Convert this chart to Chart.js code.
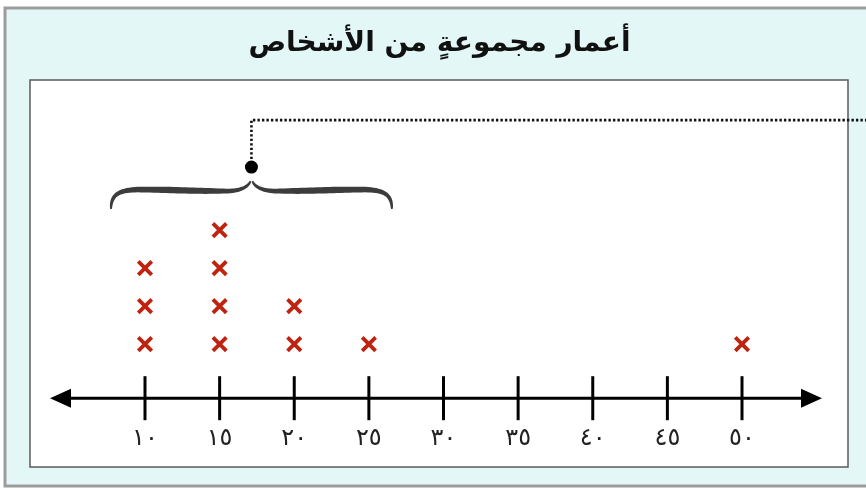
<!DOCTYPE html>
<html><head><meta charset="utf-8">
<script src="https://cdn.jsdelivr.net/npm/chart.js@4"></script>
<style>html,body{margin:0;padding:0;background:#fff}canvas{display:block}</style>
</head><body>
<canvas id="c" width="866" height="488"></canvas>
<script>
// ---- data ----
const titleText = 'أعمار مجموعةٍ من الأشخاص';
const ages = [10, 15, 20, 25, 50];
const counts = [3, 4, 2, 1, 1];
const tickValues = [10, 15, 20, 25, 30, 35, 40, 45, 50];
const tickLabels = ['١٠', '١٥', '٢٠', '٢٥', '٣٠', '٣٥', '٤٠', '٤٥', '٥٠'];
const braceFrom = 10, braceTo = 25;

const points = [];
ages.forEach((a, i) => { for (let k = 1; k <= counts[i]; k++) points.push({ x: a, y: k }); });

// ---- decorations ----
const framePlugin = {
  id: 'frame',
  beforeDraw(chart) {
    const ctx = chart.ctx;
    ctx.save();
    ctx.fillStyle = '#ffffff';
    ctx.fillRect(0, 0, chart.width, chart.height);
    ctx.fillStyle = '#e3f7f6';
    ctx.fillRect(5, 8, chart.width + 10, 478);
    ctx.strokeStyle = '#9c9c9c';
    ctx.lineWidth = 3;
    ctx.strokeRect(5, 8, chart.width + 10, 478);
    ctx.fillStyle = '#ffffff';
    ctx.fillRect(30, 80, 818, 387);
    ctx.strokeStyle = '#5a5a5a';
    ctx.lineWidth = 1.5;
    ctx.strokeRect(30, 80, 818, 387);
    ctx.restore();
  }
};

const numberLinePlugin = {
  id: 'numberLine',
  beforeDatasetsDraw(chart) {
    const ctx = chart.ctx, xs = chart.scales.x, area = chart.chartArea;
    const yLine = area.bottom - 22;
    const xFirst = xs.getPixelForValue(tickValues[0]);
    const xLast = xs.getPixelForValue(tickValues[tickValues.length - 1]);
    const leftTip = xFirst - 95, rightTip = xLast + 80;
    ctx.save();
    ctx.strokeStyle = '#000';
    ctx.fillStyle = '#000';
    ctx.lineWidth = 3;
    ctx.beginPath();
    ctx.moveTo(leftTip + 10, yLine);
    ctx.lineTo(rightTip - 10, yLine);
    ctx.stroke();
    ctx.beginPath();
    ctx.moveTo(leftTip, yLine);
    ctx.lineTo(leftTip + 21, yLine - 9.5);
    ctx.lineTo(leftTip + 21, yLine + 9.5);
    ctx.closePath();
    ctx.fill();
    ctx.beginPath();
    ctx.moveTo(rightTip, yLine);
    ctx.lineTo(rightTip - 21, yLine - 9.5);
    ctx.lineTo(rightTip - 21, yLine + 9.5);
    ctx.closePath();
    ctx.fill();
    ctx.lineWidth = 3;
    tickValues.forEach(v => {
      const px = xs.getPixelForValue(v);
      ctx.beginPath();
      ctx.moveTo(px, yLine - 22);
      ctx.lineTo(px, yLine + 22);
      ctx.stroke();
    });
    ctx.restore();
  }
};

function cubicPts(p0, p1, p2, p3, n, out) {
  for (let i = 0; i <= n; i++) {
    const t = i / n, u = 1 - t;
    out.push([
      u*u*u*p0[0] + 3*u*u*t*p1[0] + 3*u*t*t*p2[0] + t*t*t*p3[0],
      u*u*u*p0[1] + 3*u*u*t*p1[1] + 3*u*t*t*p2[1] + t*t*t*p3[1]
    ]);
  }
}

function fillVarStroke(ctx, pts) {
  const len = [0];
  for (let i = 1; i < pts.length; i++) {
    len.push(len[i-1] + Math.hypot(pts[i][0]-pts[i-1][0], pts[i][1]-pts[i-1][1]));
  }
  const total = len[len.length - 1];
  const top = [], bot = [];
  for (let i = 0; i < pts.length; i++) {
    const a = pts[Math.max(0, i-1)], b = pts[Math.min(pts.length-1, i+1)];
    let tx = b[0]-a[0], ty = b[1]-a[1];
    const m = Math.hypot(tx, ty) || 1; tx /= m; ty /= m;
    const s = len[i] / total;
    const w = 1.6 + 4.8 * Math.pow(Math.sin(Math.PI * s), 0.6);
    top.push([pts[i][0] - ty*w/2, pts[i][1] + tx*w/2]);
    bot.push([pts[i][0] + ty*w/2, pts[i][1] - tx*w/2]);
  }
  ctx.beginPath();
  ctx.moveTo(top[0][0], top[0][1]);
  top.forEach(p => ctx.lineTo(p[0], p[1]));
  for (let i = bot.length - 1; i >= 0; i--) ctx.lineTo(bot[i][0], bot[i][1]);
  ctx.closePath();
  ctx.fill();
}

const bracePlugin = {
  id: 'brace',
  afterDatasetsDraw(chart) {
    const ctx = chart.ctx, xs = chart.scales.x, ys = chart.scales.y;
    const xL = xs.getPixelForValue(braceFrom) - 34;
    const xR = xs.getPixelForValue(braceTo) + 23;
    const xM = (xL + xR) / 2;
    const yTop = ys.getPixelForValue(Math.max(...counts));
    const yE = yTop - 21, yH = yTop - 40, yT = yTop - 49;
    const left = [];
    cubicPts([xL, yE], [xL, yE - 15], [xL + 8, yH - 0.5], [xL + 30, yH - 0.5], 20, left);
    cubicPts([xL + 30, yH - 0.5], [xL + 60, yH - 0.5], [xM - 60, yH + 1], [xM - 28, yH + 1], 20, left);
    cubicPts([xM - 28, yH + 1], [xM - 12, yH + 1.5], [xM - 3, yH - 3], [xM - 1, yT], 20, left);
    const right = left.map(p => [2 * xM - p[0], p[1]]);
    ctx.save();
    ctx.fillStyle = '#3c3c3c';
    fillVarStroke(ctx, left);
    fillVarStroke(ctx, right);
    const yDot = yTop - 63, yLead = yTop - 110;
    ctx.fillStyle = '#000';
    ctx.beginPath();
    ctx.arc(xM, yDot, 6.5, 0, Math.PI * 2);
    ctx.fill();
    ctx.strokeStyle = '#111';
    ctx.lineWidth = 2.6;
    ctx.setLineDash([2.4, 2.1]);
    ctx.beginPath();
    ctx.moveTo(xM, yDot - 8);
    ctx.lineTo(xM, yLead);
    ctx.lineTo(chart.width, yLead);
    ctx.stroke();
    ctx.restore();
  }
};

new Chart(document.getElementById('c'), {
  type: 'scatter',
  data: {
    datasets: [{
      data: points,
      pointStyle: 'crossRot',
      pointRadius: 9.5,
      pointHoverRadius: 9.5,
      borderColor: '#bf2310',
      backgroundColor: '#bf2310',
      pointBorderWidth: 3.8,
      borderWidth: 3.8
    }]
  },
  options: {
    responsive: false,
    animation: false,
    devicePixelRatio: 1,
    layout: { padding: { left: 31, right: 18, top: 0, bottom: 31 } },
    plugins: {
      legend: { display: false },
      tooltip: { enabled: false },
      title: {
        display: true,
        text: titleText,
        color: '#111',
        font: { family: 'DejaVu Sans', size: 28, weight: 'bold', lineHeight: 1.2 },
        padding: { top: 27, bottom: 19.4 }
      }
    },
    scales: {
      x: {
        type: 'linear',
        min: 2.362,
        max: 57.102,
        grid: { display: false, drawTicks: false },
        border: { display: false },
        afterBuildTicks: (s) => { s.ticks = tickValues.map(v => ({ value: v })); },
        ticks: {
          padding: 4,
          color: '#222',
          font: { family: 'DejaVu Sans', size: 24 },
          callback: (v) => tickLabels[tickValues.indexOf(v)]
        }
      },
      y: {
        display: false,
        min: -1,
        max: 7.947
      }
    }
  },
  plugins: [framePlugin, numberLinePlugin, bracePlugin]
});
</script>
</body></html>
